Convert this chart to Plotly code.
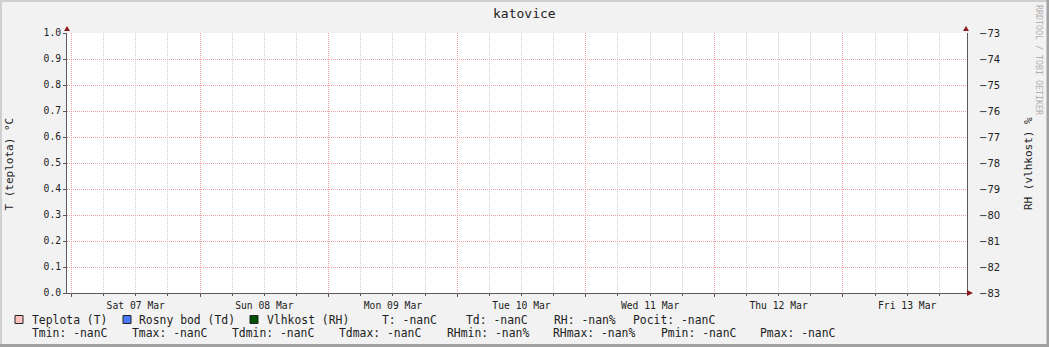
import plotly.graph_objects as go

# ---------------- data ----------------
time_range = ["2020-03-06 23:10", "2020-03-13 23:10"]
times = ["2020-03-06 23:10", "2020-03-13 23:10"]
teplota = [None, None]          # T  (all NaN in the source)
rosny_bod = [None, None]        # Td (all NaN)
vlhkost = [None, None]          # RH (all NaN)

left_range = [0.0, 1.0]
left_dtick = 0.1
right_range = [-83, -73]
right_dtick = 1

title_text = "katovice"
left_title = "T (teplota) °C"
right_title = "RH (vlhkost) %"
watermark = "RRDTOOL / TOBI OETIKER"

series_names = ["Teplota (T)", "Rosny bod (Td)", "Vlhkost (RH)"]
series_colors = ["#ffc0c0", "#4a7aff", "#005000"]
stats_line1 = ["T: -nanC", "Td: -nanC", "RH: -nan%", "Pocit: -nanC"]
stats_line2 = ["Tmin: -nanC", "Tmax: -nanC", "Tdmin: -nanC", "Tdmax: -nanC",
               "RHmin: -nan%", "RHmax: -nan%", "Pmin: -nanC", "Pmax: -nanC"]

# ---------------- layout geometry (pixels) ----------------
W, H = 1049, 347
L, R, T, B = 67, 967, 33, 293


def px(x):
    return (x - L) / (R - L)


def py(y):
    return (B - y) / (B - T)


MONO = "DejaVu Sans Mono"
SANS = "DejaVu Sans"
TXT = "#222222"
AXC = "#5a5a5a"
MGRID = "#f0a0a0"
GRID = "#cfcfcf"
ARROW = "#8b1a1a"

fig = go.Figure()
fig.add_trace(go.Scatter(x=times, y=teplota, mode="lines", name=series_names[0],
                         line=dict(color=series_colors[0]), showlegend=False))
fig.add_trace(go.Scatter(x=times, y=rosny_bod, mode="lines", name=series_names[1],
                         line=dict(color=series_colors[1]), showlegend=False))
fig.add_trace(go.Scatter(x=times, y=vlhkost, mode="lines", name=series_names[2],
                         line=dict(color=series_colors[2]), showlegend=False, yaxis="y2"))

fig.update_layout(
    width=W, height=H,
    margin=dict(l=L, r=W - R, t=T, b=H - B, pad=0),
    paper_bgcolor="#f2f2f2",
    plot_bgcolor="#ffffff",
    showlegend=False,
    xaxis=dict(
        type="date", range=time_range, autorange=False,
        tick0="2020-03-07", dtick=86400000,
        tickformat="%a %d %b", ticklabelmode="period",
        tickfont=dict(family=MONO, size=9.7, color=TXT),
        showgrid=True, gridcolor=MGRID, griddash="1px,1px", gridwidth=1,
        showline=True, linecolor=AXC, linewidth=1,
        ticks="outside", ticklen=3, tickcolor=AXC,
        zeroline=False,
        minor=dict(dtick=21600000, tick0="2020-03-07", showgrid=True,
                   gridcolor=GRID, griddash="1px,1px", gridwidth=1,
                   ticks="outside", ticklen=2, tickcolor=AXC),
    ),
    yaxis=dict(
        range=left_range, autorange=False, dtick=left_dtick, tick0=0,
        tickformat=".1f",
        tickfont=dict(family=MONO, size=9.7, color=TXT),
        showgrid=True, gridcolor=MGRID, griddash="1px,1px", gridwidth=1,
        showline=True, linecolor=AXC, linewidth=1,
        ticks="outside", ticklen=3, tickcolor=AXC,
        zeroline=False,
    ),
    yaxis2=dict(
        range=right_range, autorange=False, dtick=right_dtick, tick0=-83,
        overlaying="y", side="right",
        tickfont=dict(family=SANS, size=10, color=TXT),
        showgrid=False, zeroline=False,
        showline=True, linecolor=AXC, linewidth=1,
        ticks="outside", ticklen=3, tickcolor="rgba(0,0,0,0)",
        ticklabelstandoff=6,
    ),
)

anns = []
# title
anns.append(dict(text=title_text, x=px(524), y=py(13), xref="paper", yref="paper",
                 xanchor="center", yanchor="middle", showarrow=False,
                 font=dict(family=MONO, size=13, color=TXT)))
# axis titles
anns.append(dict(text=left_title, x=px(8.5), y=py(164), xref="paper", yref="paper",
                 xanchor="center", yanchor="middle", showarrow=False, textangle=-90,
                 font=dict(family=MONO, size=11, color=TXT)))
anns.append(dict(text=right_title, x=px(1028), y=py(164), xref="paper", yref="paper",
                 xanchor="center", yanchor="middle", showarrow=False, textangle=-90,
                 font=dict(family=MONO, size=11, color=TXT)))
# watermark
anns.append(dict(text=watermark, x=px(1039), y=py(60), xref="paper", yref="paper",
                 xanchor="center", yanchor="middle", showarrow=False, textangle=90,
                 font=dict(family=MONO, size=8.3, color="#b0b0b0")))

# legend rows
box_x = [15, 123, 250]
name_x = [30, 137, 265]
stat1_x = [380, 464, 552, 631]
stat2_x = [30, 130, 230, 337, 445, 551, 659, 758]
row1_y, row2_y = 319.5, 333

shapes = []
for name, col, bx, nx in zip(series_names, series_colors, box_x, name_x):
    shapes.append(dict(type="rect", xref="paper", yref="paper",
                       x0=px(bx), x1=px(bx + 8), y0=py(row1_y + 4), y1=py(row1_y - 4),
                       fillcolor=col, line=dict(color="#222222", width=1)))
    anns.append(dict(text=name, x=px(nx), y=py(row1_y), xref="paper", yref="paper",
                     xanchor="left", yanchor="middle", showarrow=False,
                     font=dict(family=MONO, size=11.4, color=TXT)))
for s, sx in zip(stats_line1, stat1_x):
    anns.append(dict(text=s, x=px(sx), y=py(row1_y), xref="paper", yref="paper",
                     xanchor="left", yanchor="middle", showarrow=False,
                     font=dict(family=MONO, size=11.4, color=TXT)))
for s, sx in zip(stats_line2, stat2_x):
    anns.append(dict(text=s, x=px(sx), y=py(row2_y), xref="paper", yref="paper",
                     xanchor="left", yanchor="middle", showarrow=False,
                     font=dict(family=MONO, size=11.4, color=TXT)))

# axis arrows
def tri(points):
    return "M " + " L ".join(f"{px(a)},{py(b)}" for a, b in points) + " Z"

for ax in (L, R - 1):
    shapes.append(dict(type="path", xref="paper", yref="paper",
                       path=tri([(ax - 3, 31), (ax + 3, 31), (ax, 26)]),
                       fillcolor=ARROW, line=dict(color=ARROW, width=0)))
shapes.append(dict(type="path", xref="paper", yref="paper",
                   path=tri([(R, B - 3), (R, B + 3), (R + 6, B)]),
                   fillcolor=ARROW, line=dict(color=ARROW, width=0)))

# outer frame
shapes.append(dict(type="rect", xref="paper", yref="paper", x0=px(0), x1=px(W), y0=py(2), y1=py(0),
                   fillcolor="#d0d0d0", line=dict(width=0)))
shapes.append(dict(type="rect", xref="paper", yref="paper", x0=px(0), x1=px(2), y0=py(H), y1=py(0),
                   fillcolor="#d0d0d0", line=dict(width=0)))
shapes.append(dict(type="rect", xref="paper", yref="paper", x0=px(0), x1=px(W), y0=py(H), y1=py(H - 3),
                   fillcolor="#a0a0a0", line=dict(width=0)))
shapes.append(dict(type="rect", xref="paper", yref="paper", x0=px(W - 2.5), x1=px(W), y0=py(H), y1=py(0),
                   fillcolor="#a0a0a0", line=dict(width=0)))

fig.update_layout(annotations=anns, shapes=shapes)
fig.write_html("out.html")
